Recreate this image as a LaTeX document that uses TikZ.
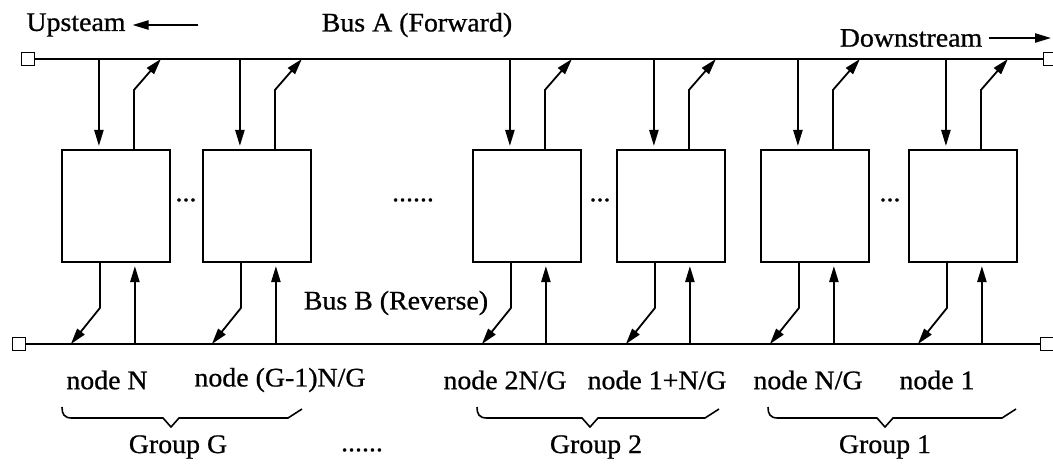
\documentclass[tikz,border=0pt]{standalone}
\usepackage{fontspec}
\setmainfont[FakeStretch=1.04,FakeBold=0.8]{Liberation Serif}
\usetikzlibrary{positioning,calc,arrows.meta}

\tikzset{
  nodebox/.style={draw, line width=1.1pt, minimum width=54pt, minimum height=56pt, inner sep=0pt},
  port/.style={draw, line width=0.8pt, minimum size=6.5pt, inner sep=0pt},
  bus/.style={line width=1.1pt},
  arr/.style={line width=0.9pt, -{Triangle[length=8pt,width=4.6pt]}},
  brc/.style={line width=0.8pt},
}

\begin{document}
\begin{tikzpicture}[x=0.5pt, y=-0.5pt, font=\fontsize{13.4}{16}\selectfont]
    \useasboundingbox (0,0) rectangle (1053,463);

    % Bus A (forward)
    \node[port] (aL) at (28,59) {};
    \node[port] (aR) at (1050,59) {};
    \draw[bus] (aL) -- (aR);
    \node (ups) at (76,25) {Upsteam};
    \coordinate (upsend) at (198,25);
    \draw[arr] (upsend) -- (ups);
    \node (busa) at (417,25) {Bus A (Forward)};
    \node (down) at (911,38) {Downstream};
    \coordinate (downend) at (1051,38);
    \draw[arr] (down) -- (downend);

    % Bus B (reverse)
    \node[port] (bL) at (19,344) {};
    \node[port] (bR) at (1047,344) {};
    \draw[bus] (bL) -- (bR);
    \node (busb) at (396,303) {Bus B (Reverse)};

    % Stations
    \node[nodebox] (n1) at (116,206) {};
    \node[nodebox] (n2) at (257,206) {};
    \node[nodebox] (n3) at (527,206) {};
    \node[nodebox] (n4) at (671,206) {};
    \node[nodebox] (n5) at (815,206) {};
    \node[nodebox] (n6) at (963,206) {};
    \node (d12) at (186,200) {...};
    \node (dmid) at (413,200) {......};
    \node (d34) at (600,200) {...};
    \node (d56) at (890,200) {...};

    % Taps on both buses
    \coordinate (ka) at (0,90);
    \coordinate (kb) at (0,308);
    \foreach \i in {1,...,6}{
        \coordinate (ai\i) at ($(n\i.north west)+(38,0)$);
        \coordinate (ao\i) at ($(n\i.north west)+(73,0)$);
        \coordinate (bo\i) at ($(n\i.south west)+(39,0)$);
        \coordinate (bi\i) at ($(n\i.south west)+(74,0)$);
        \draw[arr, shorten >=1.5pt] (ai\i |- aL) -- (ai\i);
        \draw[arr] (ao\i) -- (ao\i |- ka) -- ++(27,-31);
        \draw[arr] (bo\i) -- (bo\i |- kb) -- ++(-29,36);
        \draw[arr, shorten >=1.5pt] (bi\i |- bL) -- (bi\i);
    }

    % Node labels
    \node (l1) at (107,380) {node N};
    \node (l2) at (280,380) {node (G-1)N/G};
    \node (l3) at (505,380) {node 2N/G};
    \node (l4) at (657,380) {node 1+N/G};
    \node (l5) at (808,380) {node N/G};
    \node (l6) at (937,380) {node 1};

    % Groups
    \draw[brc] (62,407) .. controls (62,414) and (64,418) .. (72,418) -- (163,418) -- (171,427) -- (179,418) -- (288,418) -- (302,409);
    \draw[brc] (477,407) .. controls (477,414) and (479,418) .. (487,418) -- (582,418) -- (590,427) -- (598,418) -- (705,418) -- (719,409);
    \draw[brc] (768,407) .. controls (768,414) and (770,418) .. (778,418) -- (877,418) -- (885,427) -- (893,418) -- (1002,418) -- (1016,409);
    \node (gG) at (178,447) {Group G};
    \node (gdots) at (362,450) {......};
    \node (g2) at (596,447) {Group 2};
    \node (g1) at (885,447) {Group 1};
\end{tikzpicture}
\end{document}
